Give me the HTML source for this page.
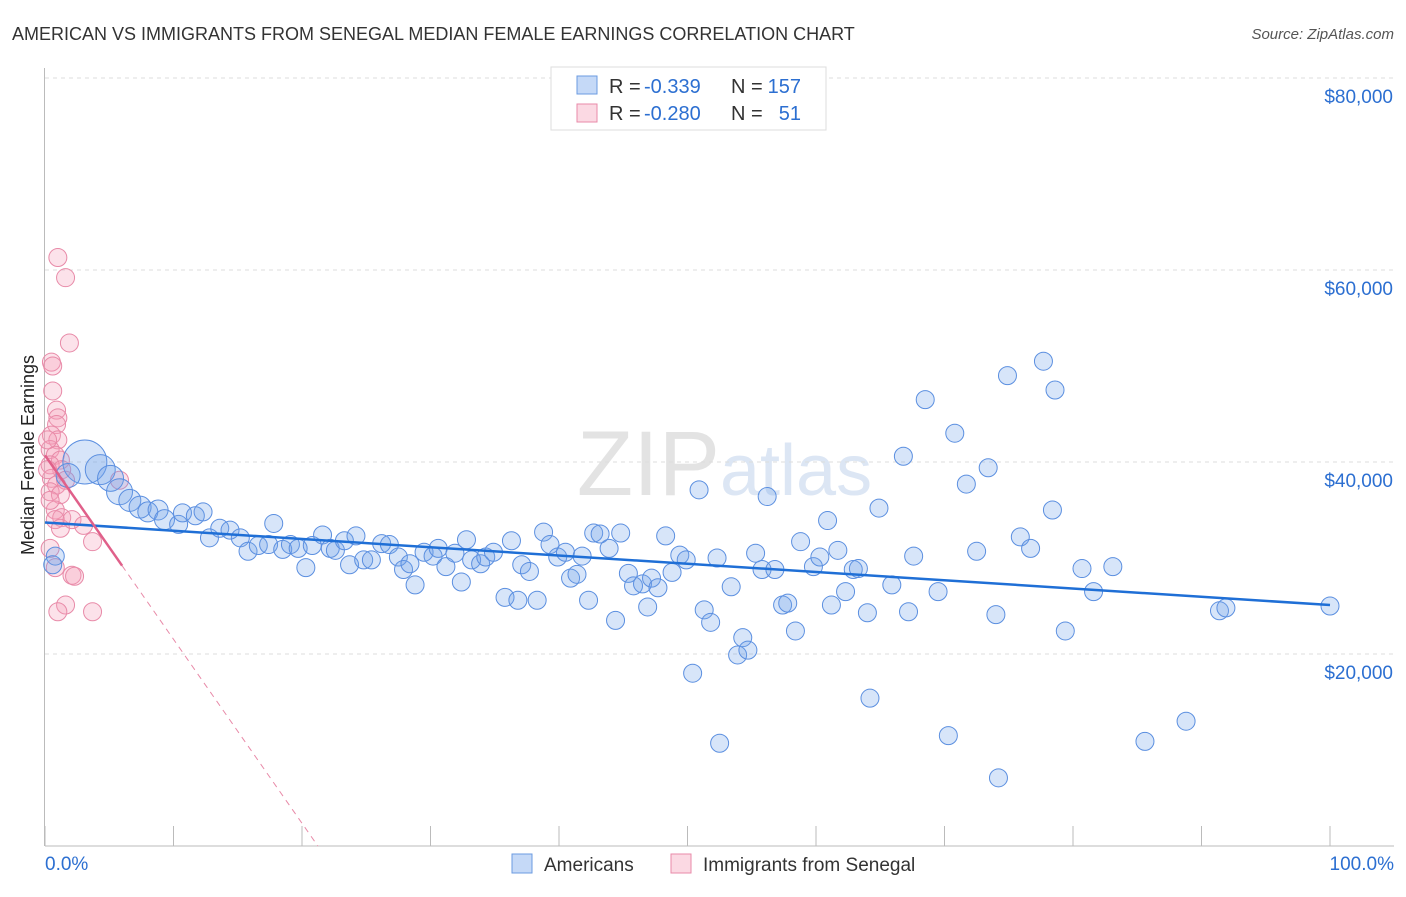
<!DOCTYPE html>
<html><head><meta charset="utf-8"><style>
body{margin:0;background:#fff;font-family:"Liberation Sans",sans-serif;}
svg text{font-family:"Liberation Sans",sans-serif;}
</style></head><body>
<svg id="c" width="1406" height="892">
<text x="12" y="40" font-size="18" fill="#333">AMERICAN VS IMMIGRANTS FROM SENEGAL MEDIAN FEMALE EARNINGS CORRELATION CHART</text>
<text x="1394" y="39" font-size="15" fill="#555" font-style="italic" text-anchor="end">Source: ZipAtlas.com</text>
<text x="720" y="495" font-size="92" fill="#e3e3e3" text-anchor="end" font-family="Liberation Serif">ZIP</text>
<text x="720" y="495" font-size="72" fill="#dce6f4">atlas</text>
<text transform="translate(34,455) rotate(-90)" font-size="18" fill="#222" text-anchor="middle">Median Female Earnings</text>
<g id="grid"></g><g id="pts"></g><g id="trend"></g>
<g>
<rect x="551" y="67" width="275" height="63" fill="#fff" stroke="#ddd"/>
<rect x="577" y="76" width="20" height="18" fill="rgba(110,160,235,0.4)" stroke="#6b9be0"/>
<rect x="577" y="104" width="20" height="18" fill="rgba(245,160,185,0.4)" stroke="#e88aa8"/>
<text x="609" y="93" font-size="20" fill="#333">R =</text>
<text x="644" y="93" font-size="20" fill="#2c6fd1">-0.339</text>
<text x="731" y="93" font-size="20" fill="#333">N =</text>
<text x="801" y="93" font-size="20" fill="#2c6fd1" text-anchor="end">157</text>
<text x="609" y="120" font-size="20" fill="#333">R =</text>
<text x="644" y="120" font-size="20" fill="#2c6fd1">-0.280</text>
<text x="731" y="120" font-size="20" fill="#333">N =</text>
<text x="801" y="120" font-size="20" fill="#2c6fd1" text-anchor="end">51</text>
</g>
<g>
<rect x="512" y="854" width="20" height="19" fill="rgba(110,160,235,0.4)" stroke="#6b9be0"/>
<text x="544" y="871" font-size="19" fill="#333">Americans</text>
<rect x="671" y="854" width="20" height="19" fill="rgba(245,160,185,0.4)" stroke="#e88aa8"/>
<text x="703" y="871" font-size="19" fill="#333">Immigrants from Senegal</text>
</g>
<text x="45" y="870" font-size="19" fill="#2c6fd1">0.0%</text>
<text x="1394" y="870" font-size="19" fill="#2c6fd1" text-anchor="end">100.0%</text>
</svg>
<script>
const yTicks=[20000,40000,60000,80000];
const yTickLabels=["$20,000","$40,000","$60,000","$80,000"];
const blueX=[3.1,1.8,4.3,5.1,5.8,6.6,7.4,8.0,8.8,9.3,10.4,10.7,11.7,12.3,12.8,13.6,14.4,15.2,15.8,16.6,17.4,17.8,18.5,19.1,19.7,20.3,20.8,21.6,22.2,22.6,23.3,23.7,24.2,24.8,25.4,26.2,26.8,27.5,27.9,28.4,28.8,29.5,30.2,30.6,31.2,31.9,32.4,32.8,33.2,33.9,34.3,34.9,35.8,36.3,36.8,37.1,37.7,38.3,38.8,39.3,39.9,40.5,40.9,41.4,41.8,42.3,42.7,43.2,43.9,44.4,44.8,45.4,45.8,46.5,46.9,47.2,47.7,48.3,48.8,49.4,49.9,50.4,50.9,51.3,51.8,52.3,52.5,53.4,53.9,54.3,54.7,55.3,55.8,56.2,56.8,57.4,57.8,58.4,58.8,59.8,60.3,60.9,61.2,61.7,62.3,62.9,63.3,64.0,64.2,64.9,65.9,66.8,67.2,67.6,68.5,69.5,70.3,70.8,71.7,72.5,73.4,74.0,74.2,74.9,75.9,76.7,77.7,78.4,78.6,79.4,80.7,81.6,83.1,85.6,88.8,91.4,91.9,100,0.8,0.6];
const blueY=[40.0,38.6,39.2,38.3,36.9,36.0,35.3,34.8,35.0,34.0,33.5,34.7,34.4,34.8,32.1,33.1,32.9,32.1,30.7,31.3,31.4,33.6,30.9,31.4,31.0,29.0,31.3,32.4,31.0,30.8,31.8,29.3,32.3,29.8,29.8,31.5,31.4,30.1,28.8,29.4,27.2,30.6,30.2,31.0,29.1,30.5,27.5,31.9,29.8,29.4,30.1,30.6,25.9,31.8,25.6,29.3,28.6,25.6,32.7,31.4,30.1,30.6,27.9,28.3,30.2,25.6,32.6,32.5,31.0,23.5,32.6,28.4,27.1,27.3,24.9,27.9,26.9,32.3,28.5,30.3,29.8,18.0,37.1,24.6,23.3,30.0,10.7,27.0,19.9,21.7,20.4,30.5,28.8,36.4,28.8,25.1,25.3,22.4,31.7,29.1,30.1,33.9,25.1,30.8,26.5,28.8,28.9,24.3,15.4,35.2,27.2,40.6,24.4,30.2,46.5,26.5,11.5,43.0,37.7,30.7,39.4,24.1,7.1,49.0,32.2,31.0,50.5,35.0,47.5,22.4,28.9,26.5,29.1,10.9,13.0,24.5,24.8,25.0,30.2,29.3];
const blueR=[22,12,15,13,13,11,11,10,10,10];
const pinkX=[1.0,1.6,1.9,0.5,0.6,0.6,0.9,1.0,0.9,0.5,1.0,0.4,0.8,1.2,0.4,1.3,0.5,0.9,1.6,0.4,1.2,5.8,0.8,1.3,0.8,1.2,2.1,3.0,3.7,0.4,0.8,2.1,2.3,1.6,1.0,3.7,0.2,0.2,0.4];
const pinkY=[61.3,59.2,52.4,50.4,50.0,47.4,45.4,44.6,43.9,42.8,42.3,41.3,40.7,40.2,39.7,39.2,38.3,37.6,38.1,36.9,36.6,38.1,35.0,34.2,34.0,33.1,34.0,33.4,31.7,31.0,29.0,28.2,28.1,25.1,24.4,24.4,42.3,39.2,36.0];
const blueTrend=[33700,25100];
const pinkTrend=[40700,29200];
const pinkSolidEnd=6.0;
const X=p=>45+p*12.85, Y=v=>846-v*0.0096;
const NS="http://www.w3.org/2000/svg";
function mk(t,a,p){const e=document.createElementNS(NS,t);for(const k in a)e.setAttribute(k,a[k]);p.appendChild(e);return e;}
const grid=document.getElementById('grid');
yTicks.forEach((v,i)=>{
 const l=mk('line',{x1:45,x2:1394,y1:Y(v),y2:Y(v),stroke:'#ddd','stroke-dasharray':'4,4'},grid);
 
 
 const t=mk('text',{x:1393,y:Y(v)+25,'font-size':19,fill:'#2c6fd1','text-anchor':'end'},grid);
 t.textContent=yTickLabels[i];
 
 
});
const ax=mk('line',{x1:45,x2:1394,y1:846,y2:846,stroke:'#bbb'},grid);


const ay=mk('line',{x1:44.5,x2:44.5,y1:68,y2:846,stroke:'#bbb'},grid);


for(let i=0;i<=10;i++){const tk=mk('line',{x1:X(i*10),x2:X(i*10),y1:826,y2:846,stroke:'#bbb'},grid);
 
 }
const pts=document.getElementById('pts');
pinkX.forEach((x,i)=>{const c=mk('circle',{cx:X(x),cy:Y(pinkY[i]*1000),r:9,fill:'rgba(245,160,185,0.3)',stroke:'#e88aa8','stroke-width':1},pts);
 
 });
blueX.forEach((x,i)=>{const c=mk('circle',{cx:X(x),cy:Y(blueY[i]*1000),r:blueR[i]||9,fill:'rgba(110,160,235,0.28)',stroke:'#5b8fe0','stroke-width':1},pts);
 
 });
const tr=document.getElementById('trend');
const b=mk('line',{x1:X(0),y1:Y(blueTrend[0]),x2:X(100),y2:Y(blueTrend[1]),stroke:'#1f6fd6','stroke-width':2.5},tr);


const slope=(pinkTrend[1]-pinkTrend[0])/pinkSolidEnd;
const zeroX=-pinkTrend[0]/slope;
const p1=mk('line',{x1:X(0),y1:Y(pinkTrend[0]),x2:X(pinkSolidEnd),y2:Y(pinkTrend[1]),stroke:'#e0608a','stroke-width':2.5},tr);


const p2=mk('line',{x1:X(pinkSolidEnd),y1:Y(pinkTrend[1]),x2:X(zeroX),y2:Y(0),stroke:'#e88aa8','stroke-width':1,'stroke-dasharray':'6,5'},tr);


</script>
</body></html>
